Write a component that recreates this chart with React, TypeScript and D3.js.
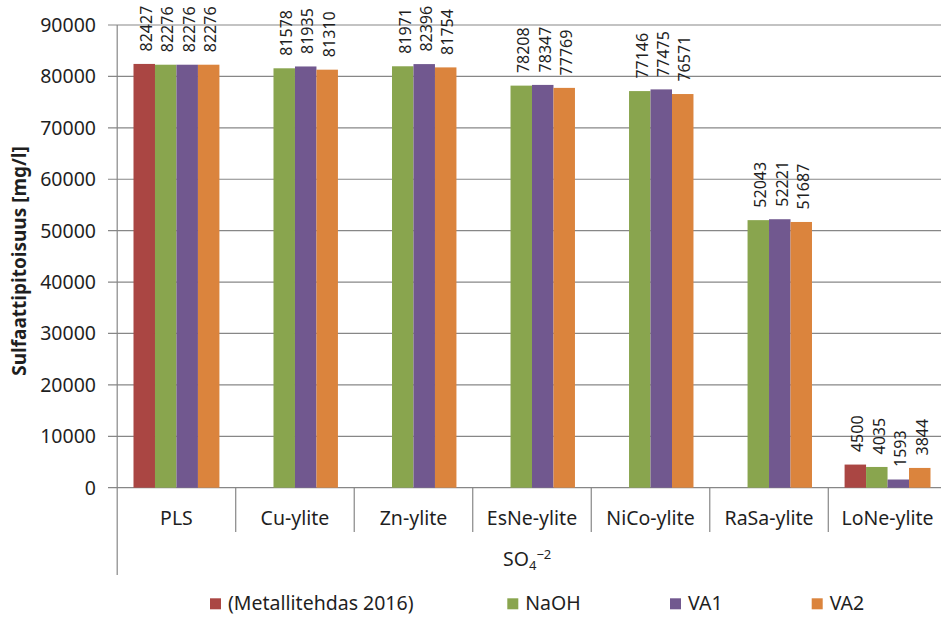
import React from "react";
import * as d3 from "d3";

// Sulphate concentration (mg/l) per process stage and neutralisation agent
const categories = ["PLS", "Cu-ylite", "Zn-ylite", "EsNe-ylite", "NiCo-ylite", "RaSa-ylite", "LoNe-ylite"];
const seriesNames = ["(Metallitehdas 2016)", "NaOH", "VA1", "VA2"];
const metallitehdas: (number | null)[] = [82427, null, null, null, null, null, 4500];
const naoh: (number | null)[] = [82276, 81578, 81971, 78208, 77146, 52043, 4035];
const va1: (number | null)[] = [82276, 81935, 82396, 78347, 77475, 52221, 1593];
const va2: (number | null)[] = [82276, 81310, 81754, 77769, 76571, 51687, 3844];
const yTicks = [0, 10000, 20000, 30000, 40000, 50000, 60000, 70000, 80000, 90000];
const colors = ["#AA4643", "#89A54E", "#71588F", "#DB843D"];

const W = 941;
const H = 617;
const FONT = "'Noto Sans', 'Open Sans', sans-serif";
const TEXT = "#1f1f1f";
const GRID = "#878787";

export default function App() {
  const series = [metallitehdas, naoh, va1, va2];
  const left = 117.2;
  const right = 946.8;
  const top = 25;
  const bottom = 487.7;

  const x0 = d3.scaleBand<string>().domain(categories).range([left, right]).padding(0);
  const bw = x0.bandwidth();
  const gap = 16.3;
  const x1 = d3.scaleBand<string>().domain(seriesNames).range([gap, bw - gap]).padding(0);
  const y = d3.scaleLinear().domain([0, 90000]).range([bottom, top]);

  const boundaries = categories.map((c) => x0(c) as number).concat([right]);

  return (
    <svg
      width={W}
      height={H}
      style={{ position: "absolute", left: 0, top: 0, background: "#fff", display: "block" }}
      fontFamily={FONT}
    >
      {/* horizontal gridlines with tick marks */}
      {yTicks.map((t) => (
        <line key={t} x1={108} x2={right} y1={y(t)} y2={y(t)} stroke={GRID} strokeWidth={1.2} />
      ))}
      {/* y tick labels */}
      {yTicks.map((t) => (
        <text key={"l" + t} x={96} y={y(t)} dy="0.36em" textAnchor="end" fontSize={19.5} fill={TEXT}>
          {t}
        </text>
      ))}
      {/* value axis line */}
      <line x1={left} x2={left} y1={top} y2={575} stroke={GRID} strokeWidth={1.2} />
      {/* category separators */}
      {boundaries.slice(1).map((bx, i) => (
        <line key={"s" + i} x1={bx} x2={bx} y1={bottom} y2={532} stroke={GRID} strokeWidth={1.2} />
      ))}

      {/* bars */}
      {categories.map((c, ci) =>
        series.map((s, si) => {
          const v = s[ci];
          if (v == null) return null;
          const bx = (x0(c) as number) + (x1(seriesNames[si]) as number);
          return (
            <rect
              key={c + si}
              x={bx}
              y={y(v)}
              width={x1.bandwidth()}
              height={bottom - y(v)}
              fill={colors[si]}
            />
          );
        })
      )}

      {/* value labels */}
      {categories.map((c, ci) =>
        series.map((s, si) => {
          const v = s[ci];
          if (v == null) return null;
          const cx = (x0(c) as number) + (x1(seriesNames[si]) as number) + x1.bandwidth() / 2 + 2;
          const by = y(v) - 12.5;
          return (
            <text
              key={"v" + c + si}
              transform={`translate(${cx},${by}) rotate(-90)`}
              dy="0.36em"
              textAnchor="start"
              fontSize={16}
              fill={TEXT}
            >
              {v}
            </text>
          );
        })
      )}

      {/* category labels */}
      {categories.map((c) => (
        <text
          key={"c" + c}
          x={(x0(c) as number) + bw / 2}
          y={525}
          textAnchor="middle"
          fontSize={19.5}
          fill={TEXT}
        >
          {c}
        </text>
      ))}

      {/* axis title */}
      <text x={503} y={566} fontSize={19.5} fill={TEXT}>
        SO
        <tspan fontSize={13} dy={4}>4</tspan>
        <tspan fontSize={13} dy={-11}>−2</tspan>
      </text>

      <text
        transform="translate(26,261) rotate(-90)"
        textAnchor="middle"
        fontSize={19}
        fontWeight="bold"
        fill={TEXT}
      >
        Sulfaattipitoisuus [mg/l]
      </text>

      {/* legend */}
      {seriesNames.map((n, i) => {
        const lx = [210, 507.3, 670, 811.7][i];
        return (
          <g key={"lg" + n}>
            <rect x={lx} y={598.3} width={11} height={11} fill={colors[i]} />
            <text x={lx + 18} y={609.5} fontSize={19.5} fill={TEXT}>
              {n}
            </text>
          </g>
        );
      })}
    </svg>
  );
}
